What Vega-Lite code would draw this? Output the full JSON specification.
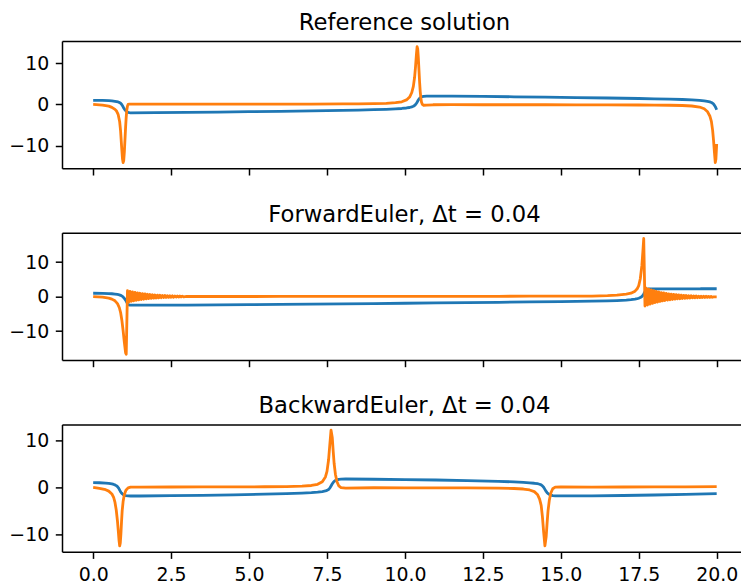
{
  "$schema": "https://vega.github.io/schema/vega-lite/v6.json",
  "padding": {"left": 8, "top": 11, "right": 0, "bottom": 0},
  "background": "white",
  "config": {
    "font": "DejaVu Sans",
    "view": {"stroke": null},
    "axis": {"grid": false, "domainColor": "black", "domainWidth": 1.5, "tickColor": "black", "tickWidth": 1.5, "tickSize": 6.7, "labelFont": "DejaVu Sans", "labelFontSize": 18.9, "labelColor": "black", "labelPadding": 6.6},
    "title": {"font": "DejaVu Sans", "fontSize": 22.7, "fontWeight": "normal", "color": "black", "offset": 6.5, "baseline": "alphabetic", "dx": 3},
    "concat": {"spacing": 26.7}
  },
  "datasets": {
    "ref": [
      {"t":0,"x":1.0,"v":0},{"t":0.3,"x":0.98,"v":-0.15},{"t":0.5,"x":0.91,"v":-0.4},{"t":0.6,"x":0.85,"v":-0.7},{"t":0.7,"x":0.76,"v":-1.2},{"t":0.75,"x":0.69,"v":-1.6},{"t":0.8,"x":0.6,"v":-2.4},{"t":0.85,"x":0.45,"v":-4.2},{"t":0.88,"x":0.3,"v":-6.5},{"t":0.91,"x":0.06,"v":-10.0},{"t":0.94,"x":-0.3,"v":-13.2},{"t":0.96,"x":-0.58,"v":-14.1},{"t":0.98,"x":-0.86,"v":-13.6},{"t":1.0,"x":-1.11,"v":-11.5},{"t":1.02,"x":-1.32,"v":-8.5},{"t":1.04,"x":-1.5,"v":-5.5},{"t":1.06,"x":-1.66,"v":-3.0},{"t":1.08,"x":-1.78,"v":-1.3},{"t":1.1,"x":-1.88,"v":-0.4},{"t":1.12,"x":-1.95,"v":0.0},{"t":1.16,"x":-2.01,"v":0.06},{"t":1.2,"x":-2.04,"v":0.06},
      {"t":2.0,"x":-2.0,"v":0.06},{"t":3.0,"x":-1.93,"v":0.07},{"t":4.0,"x":-1.85,"v":0.07},{"t":5.0,"x":-1.76,"v":0.08},{"t":6.0,"x":-1.66,"v":0.09},{"t":7.0,"x":-1.55,"v":0.1},{"t":8.0,"x":-1.43,"v":0.13},{"t":8.5,"x":-1.36,"v":0.16},{"t":9.0,"x":-1.27,"v":0.2},{"t":9.4,"x":-1.18,"v":0.28},{"t":9.7,"x":-1.08,"v":0.42},{"t":9.9,"x":-0.98,"v":0.65},{"t":10.05,"x":-0.86,"v":1.1},{"t":10.15,"x":-0.74,"v":1.8},{"t":10.22,"x":-0.6,"v":2.9},{"t":10.27,"x":-0.45,"v":4.4},{"t":10.31,"x":-0.26,"v":6.6},{"t":10.34,"x":-0.04,"v":9.2},{"t":10.37,"x":0.28,"v":12.3},{"t":10.39,"x":0.54,"v":14.0},{"t":10.41,"x":0.82,"v":13.5},{"t":10.43,"x":1.08,"v":11.3},{"t":10.45,"x":1.3,"v":8.4},{"t":10.47,"x":1.48,"v":5.5},{"t":10.49,"x":1.62,"v":3.2},{"t":10.51,"x":1.74,"v":1.6},{"t":10.53,"x":1.83,"v":0.6},{"t":10.56,"x":1.92,"v":0.0},{"t":10.6,"x":1.98,"v":-0.2},{"t":10.7,"x":2.02,"v":-0.15},{"t":10.9,"x":2.04,"v":-0.08},
      {"t":11.5,"x":2.01,"v":-0.06},{"t":12.5,"x":1.94,"v":-0.07},{"t":13.5,"x":1.86,"v":-0.07},{"t":14.5,"x":1.77,"v":-0.08},{"t":15.5,"x":1.67,"v":-0.09},{"t":16.5,"x":1.56,"v":-0.1},{"t":17.5,"x":1.44,"v":-0.13},{"t":18.0,"x":1.37,"v":-0.16},{"t":18.5,"x":1.28,"v":-0.2},{"t":18.9,"x":1.2,"v":-0.26},{"t":19.2,"x":1.1,"v":-0.38},{"t":19.45,"x":0.99,"v":-0.63},{"t":19.6,"x":0.87,"v":-1.05},{"t":19.7,"x":0.76,"v":-1.7},{"t":19.78,"x":0.62,"v":-2.8},{"t":19.83,"x":0.48,"v":-4.1},{"t":19.87,"x":0.3,"v":-6.3},{"t":19.9,"x":0.08,"v":-8.8},{"t":19.93,"x":-0.22,"v":-11.8},{"t":19.955,"x":-0.54,"v":-14.1},{"t":19.975,"x":-0.85,"v":-13.3},{"t":20.0,"x":-1.3,"v":-9.6}
    ],
    "fe": [
      {"t":0,"x":1.0,"v":0},{"t":0.3,"x":0.98,"v":-0.15},{"t":0.5,"x":0.91,"v":-0.4},{"t":0.6,"x":0.85,"v":-0.7},{"t":0.7,"x":0.76,"v":-1.2},{"t":0.78,"x":0.65,"v":-2.0},{"t":0.84,"x":0.52,"v":-3.2},{"t":0.88,"x":0.39,"v":-4.6},{"t":0.92,"x":0.2,"v":-6.8},{"t":0.96,"x":-0.08,"v":-9.8},{"t":1.0,"x":-0.48,"v":-13.2},{"t":1.04,"x":-1.01,"v":-16.3},{"t":1.06,"x":-1.34,"v":-16.67},{"t":1.1,"x":-2.0,"v":1.75},{"t":1.14,"x":-2.35,"v":-1.55},
      {"t":1.18,"x":-2.45,"v":1.56},{"t":1.22,"x":-2.47,"v":-1.37},{"t":1.26,"x":-2.47,"v":1.39},{"t":1.3,"x":-2.47,"v":-1.21},{"t":1.34,"x":-2.47,"v":1.24},{"t":1.38,"x":-2.47,"v":-1.07},{"t":1.42,"x":-2.47,"v":1.1},{"t":1.46,"x":-2.47,"v":-0.94},{"t":1.5,"x":-2.47,"v":0.99},{"t":1.54,"x":-2.47,"v":-0.83},{"t":1.58,"x":-2.47,"v":0.88},{"t":1.62,"x":-2.47,"v":-0.73},{"t":1.66,"x":-2.47,"v":0.79},{"t":1.7,"x":-2.47,"v":-0.64},{"t":1.74,"x":-2.47,"v":0.7},{"t":1.78,"x":-2.47,"v":-0.57},{"t":1.82,"x":-2.47,"v":0.63},{"t":1.86,"x":-2.47,"v":-0.5},{"t":1.9,"x":-2.47,"v":0.56},{"t":1.94,"x":-2.47,"v":-0.43},{"t":1.98,"x":-2.47,"v":0.51},{"t":2.02,"x":-2.47,"v":-0.38},{"t":2.06,"x":-2.47,"v":0.45},{"t":2.1,"x":-2.47,"v":-0.33},{"t":2.14,"x":-2.47,"v":0.41},{"t":2.18,"x":-2.46,"v":-0.29},{"t":2.22,"x":-2.46,"v":0.37},{"t":2.26,"x":-2.46,"v":-0.25},{"t":2.3,"x":-2.46,"v":0.33},{"t":2.34,"x":-2.46,"v":-0.22},{"t":2.38,"x":-2.46,"v":0.3},{"t":2.42,"x":-2.46,"v":-0.19},{"t":2.46,"x":-2.46,"v":0.27},{"t":2.5,"x":-2.46,"v":-0.16},{"t":2.54,"x":-2.45,"v":0.25},{"t":2.58,"x":-2.45,"v":-0.14},{"t":2.62,"x":-2.45,"v":0.23},{"t":2.66,"x":-2.45,"v":-0.12},{"t":2.7,"x":-2.45,"v":0.21},{"t":2.74,"x":-2.44,"v":-0.1},{"t":2.78,"x":-2.44,"v":0.19},{"t":2.82,"x":-2.44,"v":-0.08},{"t":2.86,"x":-2.44,"v":0.17},{"t":2.9,"x":-2.43,"v":-0.07},{"t":3.0,"x":-2.42,"v":0.06},
      {"t":4.0,"x":-2.36,"v":0.06},{"t":5.0,"x":-2.3,"v":0.06},{"t":6.0,"x":-2.23,"v":0.07},{"t":7.0,"x":-2.16,"v":0.07},{"t":8.0,"x":-2.08,"v":0.08},{"t":9.0,"x":-1.99,"v":0.08},{"t":10.0,"x":-1.9,"v":0.09},{"t":11.0,"x":-1.81,"v":0.1},{"t":12.0,"x":-1.72,"v":0.11},{"t":13.0,"x":-1.62,"v":0.12},{"t":14.0,"x":-1.51,"v":0.14},{"t":15.0,"x":-1.4,"v":0.16},{"t":16.0,"x":-1.29,"v":0.19},{"t":16.5,"x":-1.2,"v":0.3},{"t":16.8,"x":-1.12,"v":0.45},{"t":17.1,"x":-0.98,"v":0.75},{"t":17.25,"x":-0.85,"v":1.0},{"t":17.38,"x":-0.7,"v":1.6},{"t":17.45,"x":-0.58,"v":2.3},{"t":17.5,"x":-0.45,"v":3.2},{"t":17.55,"x":-0.25,"v":5.2},{"t":17.6,"x":0.05,"v":9.0},{"t":17.63,"x":0.35,"v":12.8},{"t":17.66,"x":0.8,"v":16.87},{"t":17.7,"x":1.5,"v":-2.7},{"t":17.74,"x":2.0,"v":2.45},{"t":17.78,"x":2.2,"v":-2.41},{"t":17.82,"x":2.26,"v":2.18},
      {"t":17.86,"x":2.28,"v":-2.15},{"t":17.9,"x":2.28,"v":1.94},{"t":17.94,"x":2.28,"v":-1.92},{"t":17.98,"x":2.28,"v":1.72},{"t":18.02,"x":2.28,"v":-1.72},{"t":18.06,"x":2.28,"v":1.53},{"t":18.1,"x":2.28,"v":-1.54},{"t":18.14,"x":2.28,"v":1.36},{"t":18.18,"x":2.28,"v":-1.38},{"t":18.22,"x":2.28,"v":1.2},{"t":18.26,"x":2.28,"v":-1.23},{"t":18.3,"x":2.28,"v":1.07},{"t":18.34,"x":2.28,"v":-1.1},{"t":18.38,"x":2.28,"v":0.94},{"t":18.42,"x":2.28,"v":-0.99},{"t":18.46,"x":2.28,"v":0.84},{"t":18.5,"x":2.29,"v":-0.89},{"t":18.54,"x":2.29,"v":0.74},{"t":18.58,"x":2.29,"v":-0.8},{"t":18.62,"x":2.29,"v":0.65},{"t":18.66,"x":2.29,"v":-0.71},{"t":18.7,"x":2.29,"v":0.58},{"t":18.74,"x":2.29,"v":-0.64},{"t":18.78,"x":2.29,"v":0.51},{"t":18.82,"x":2.29,"v":-0.58},{"t":18.86,"x":2.29,"v":0.45},{"t":18.9,"x":2.29,"v":-0.52},{"t":18.94,"x":2.29,"v":0.39},{"t":18.98,"x":2.29,"v":-0.47},{"t":19.02,"x":2.29,"v":0.35},{"t":19.06,"x":2.29,"v":-0.42},{"t":19.1,"x":2.29,"v":0.3},{"t":19.14,"x":2.29,"v":-0.38},{"t":19.18,"x":2.29,"v":0.26},{"t":19.22,"x":2.29,"v":-0.35},{"t":19.26,"x":2.29,"v":0.23},{"t":19.3,"x":2.29,"v":-0.31},{"t":19.34,"x":2.29,"v":0.2},{"t":19.38,"x":2.29,"v":-0.28},{"t":19.42,"x":2.29,"v":0.17},{"t":19.46,"x":2.29,"v":-0.26},{"t":19.5,"x":2.3,"v":0.15},{"t":19.54,"x":2.3,"v":-0.24},{"t":19.58,"x":2.3,"v":0.13},{"t":19.62,"x":2.3,"v":-0.22},{"t":19.66,"x":2.3,"v":0.11},{"t":19.7,"x":2.3,"v":-0.2},{"t":19.74,"x":2.3,"v":0.09},{"t":19.78,"x":2.3,"v":-0.18},{"t":19.82,"x":2.3,"v":0.07},{"t":19.86,"x":2.3,"v":-0.16},{"t":19.9,"x":2.3,"v":-0.05},{"t":20.0,"x":2.3,"v":-0.05}
    ],
    "be": [
      {"t":0,"x":1.0,"v":0},{"t":0.2,"x":0.98,"v":-0.2},{"t":0.4,"x":0.9,"v":-0.5},{"t":0.5,"x":0.83,"v":-0.8},{"t":0.6,"x":0.72,"v":-1.4},{"t":0.66,"x":0.62,"v":-2.2},{"t":0.7,"x":0.52,"v":-3.2},{"t":0.74,"x":0.37,"v":-4.8},{"t":0.78,"x":0.15,"v":-7.2},{"t":0.81,"x":-0.1,"v":-9.6},{"t":0.83,"x":-0.32,"v":-11.3},{"t":0.85,"x":-0.57,"v":-12.41},{"t":0.87,"x":-0.81,"v":-11.8},{"t":0.89,"x":-1.03,"v":-9.8},{"t":0.91,"x":-1.21,"v":-7.2},{"t":0.93,"x":-1.35,"v":-5.0},{"t":0.96,"x":-1.52,"v":-3.0},{"t":1.0,"x":-1.66,"v":-1.5},{"t":1.05,"x":-1.75,"v":-0.6},{"t":1.12,"x":-1.8,"v":-0.1},{"t":1.2,"x":-1.83,"v":0.05},
      {"t":1.5,"x":-1.83,"v":0.06},{"t":2.5,"x":-1.76,"v":0.08},{"t":3.5,"x":-1.68,"v":0.09},{"t":4.5,"x":-1.58,"v":0.1},{"t":5.5,"x":-1.45,"v":0.13},{"t":6.2,"x":-1.34,"v":0.17},{"t":6.7,"x":-1.22,"v":0.25},{"t":7.0,"x":-1.12,"v":0.4},{"t":7.2,"x":-1.0,"v":0.65},{"t":7.35,"x":-0.88,"v":1.2},{"t":7.45,"x":-0.76,"v":2.2},{"t":7.5,"x":-0.64,"v":3.4},{"t":7.55,"x":-0.44,"v":5.8},{"t":7.59,"x":-0.16,"v":9.0},{"t":7.63,"x":0.3,"v":12.12},{"t":7.67,"x":0.75,"v":10.5},{"t":7.7,"x":1.05,"v":7.6},{"t":7.73,"x":1.27,"v":5.0},{"t":7.77,"x":1.45,"v":2.8},{"t":7.82,"x":1.6,"v":1.2},{"t":7.88,"x":1.7,"v":0.3},{"t":7.95,"x":1.75,"v":-0.05},{"t":8.1,"x":1.77,"v":-0.15},
      {"t":9.0,"x":1.72,"v":-0.08},{"t":10.0,"x":1.65,"v":-0.09},{"t":11.0,"x":1.56,"v":-0.1},{"t":12.0,"x":1.44,"v":-0.12},{"t":13.0,"x":1.27,"v":-0.17},{"t":13.5,"x":1.16,"v":-0.24},{"t":13.8,"x":1.06,"v":-0.35},{"t":14.0,"x":0.97,"v":-0.55},{"t":14.15,"x":0.87,"v":-0.9},{"t":14.25,"x":0.77,"v":-1.5},{"t":14.32,"x":0.66,"v":-2.5},{"t":14.37,"x":0.52,"v":-3.8},{"t":14.41,"x":0.32,"v":-6.2},{"t":14.45,"x":0.02,"v":-9.5},{"t":14.49,"x":-0.42,"v":-12.41},{"t":14.53,"x":-0.86,"v":-10.5},{"t":14.56,"x":-1.12,"v":-7.6},{"t":14.59,"x":-1.32,"v":-5.0},{"t":14.63,"x":-1.5,"v":-2.8},{"t":14.68,"x":-1.64,"v":-1.2},{"t":14.74,"x":-1.74,"v":-0.3},{"t":14.82,"x":-1.8,"v":0.05},{"t":15.0,"x":-1.82,"v":0.08},
      {"t":16.0,"x":-1.79,"v":0.07},{"t":17.0,"x":-1.72,"v":0.08},{"t":18.0,"x":-1.62,"v":0.1},{"t":19.0,"x":-1.5,"v":0.12},{"t":20.0,"x":-1.34,"v":0.15}
    ]
  },
  "vconcat": [
    {
      "title": "Reference solution",
      "data": {"name": "ref"},
      "width": 679, "height": 127.3,
      "resolve": {"axis": {"x": "independent"}},
      "layer": [
        {"mark": {"type": "line", "color": "#1f77b4", "strokeWidth": 2.8, "strokeJoin": "round"},
         "encoding": {
           "x": {"field": "t", "type": "quantitative", "title": null, "scale": {"domain": [-1, 20.78], "nice": false, "zero": false}, "axis": {"orient": "bottom", "values": [0, 2.5, 5, 7.5, 10, 12.5, 15, 17.5, 20], "labels": false}},
           "y": {"field": "x", "type": "quantitative", "title": null, "scale": {"domain": [-15.5, 15.4], "nice": false, "zero": false}, "axis": {"values": [-10, 0, 10]}}
         }},
        {"mark": {"type": "line", "color": "#ff7f0e", "strokeWidth": 2.8, "strokeJoin": "round"},
         "encoding": {
           "x": {"field": "t", "type": "quantitative", "title": null, "axis": {"orient": "top", "ticks": false, "labels": false}},
           "y": {"field": "v", "type": "quantitative", "title": null, "axis": {"values": [-10, 0, 10]}}
         }}
      ]
    },
    {
      "title": "ForwardEuler, Δt = 0.04",
      "data": {"name": "fe"},
      "width": 679, "height": 127.3,
      "resolve": {"axis": {"x": "independent"}},
      "layer": [
        {"mark": {"type": "line", "color": "#1f77b4", "strokeWidth": 2.8, "strokeJoin": "round"},
         "encoding": {
           "x": {"field": "t", "type": "quantitative", "title": null, "scale": {"domain": [-1, 20.78], "nice": false, "zero": false}, "axis": {"orient": "bottom", "values": [0, 2.5, 5, 7.5, 10, 12.5, 15, 17.5, 20], "labels": false}},
           "y": {"field": "x", "type": "quantitative", "title": null, "scale": {"domain": [-18.35, 18.55], "nice": false, "zero": false}, "axis": {"values": [-10, 0, 10]}}
         }},
        {"mark": {"type": "line", "color": "#ff7f0e", "strokeWidth": 2.8, "strokeJoin": "round"},
         "encoding": {
           "x": {"field": "t", "type": "quantitative", "title": null, "axis": {"orient": "top", "ticks": false, "labels": false}},
           "y": {"field": "v", "type": "quantitative", "title": null, "axis": {"values": [-10, 0, 10]}}
         }}
      ]
    },
    {
      "title": "BackwardEuler, Δt = 0.04",
      "data": {"name": "be"},
      "width": 679, "height": 127.3,
      "resolve": {"axis": {"x": "independent"}},
      "layer": [
        {"mark": {"type": "line", "color": "#1f77b4", "strokeWidth": 2.8, "strokeJoin": "round"},
         "encoding": {
           "x": {"field": "t", "type": "quantitative", "title": null, "scale": {"domain": [-1, 20.78], "nice": false, "zero": false}, "axis": {"orient": "bottom", "values": [0, 2.5, 5, 7.5, 10, 12.5, 15, 17.5, 20], "format": ".1f", "labelFlush": false, "labelOverlap": false}},
           "y": {"field": "x", "type": "quantitative", "title": null, "scale": {"domain": [-13.64, 13.35], "nice": false, "zero": false}, "axis": {"values": [-10, 0, 10]}}
         }},
        {"mark": {"type": "line", "color": "#ff7f0e", "strokeWidth": 2.8, "strokeJoin": "round"},
         "encoding": {
           "x": {"field": "t", "type": "quantitative", "title": null, "axis": {"orient": "top", "ticks": false, "labels": false}},
           "y": {"field": "v", "type": "quantitative", "title": null, "axis": {"values": [-10, 0, 10]}}
         }}
      ]
    }
  ]
}
